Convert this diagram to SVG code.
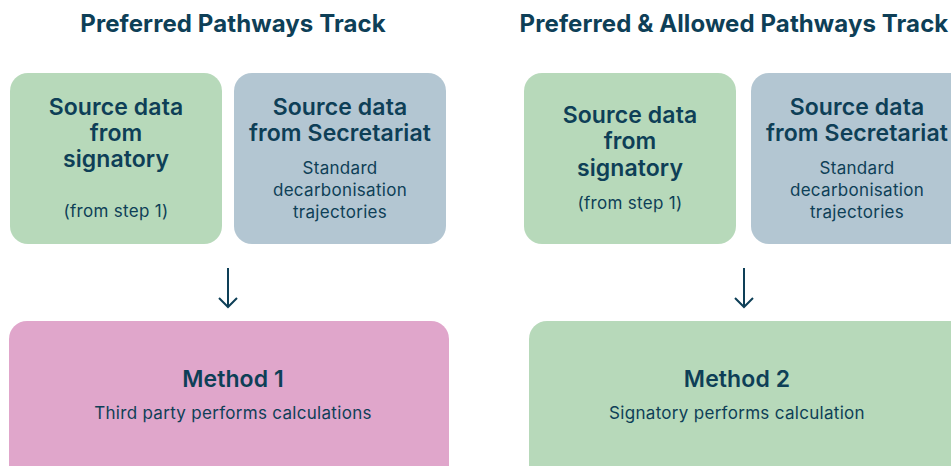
<svg xmlns="http://www.w3.org/2000/svg" width="951" height="466" viewBox="0 0 951 466">
<style>
.t{font-family:"Inter","Liberation Sans",sans-serif;fill:#0e3f57;text-anchor:middle}
.h{font-size:24px;font-weight:700;letter-spacing:0.1px}
.b{font-size:23px;font-weight:600;letter-spacing:0.1px}
.s{font-size:17px;font-weight:400;letter-spacing:0.3px}
.g{fill:#b7d9ba}
.bl{fill:#b3c6d2}
.p{fill:#e0a6cb}
.c{stroke:#0e3f57;stroke-width:2;fill:none}
</style>
<rect width="951" height="466" fill="#fff"/>
<text class="t h" x="233" y="32">Preferred Pathways Track</text>
<text class="t h" x="734" y="32">Preferred &amp; Allowed Pathways Track</text>
<g id="a1">
<rect class="g" x="10" y="73" width="212" height="171" rx="18"/>
<text class="t b" x="116" y="115">Source data</text>
<text class="t b" x="116" y="141">from</text>
<text class="t b" x="116" y="167">signatory</text>
<text class="t s" x="116" y="217">(from step 1)</text>
</g>
<g id="a2">
<rect class="bl" x="234" y="73" width="212" height="171" rx="18"/>
<text class="t b" x="340" y="115">Source data</text>
<text class="t b" x="340" y="141">from Secretariat</text>
<text class="t s" x="340" y="174">Standard</text>
<text class="t s" x="340" y="196">decarbonisation</text>
<text class="t s" x="340" y="218">trajectories</text>
</g>
<g id="b1">
<rect class="g" x="524" y="73" width="212" height="171" rx="18"/>
<text class="t b" x="630" y="123">Source data</text>
<text class="t b" x="630" y="149">from</text>
<text class="t b" x="630" y="176">signatory</text>
<text class="t s" x="630" y="209">(from step 1)</text>
</g>
<g id="b2">
<rect class="bl" x="751" y="73" width="220" height="171" rx="18"/>
<text class="t b" x="857" y="115">Source data</text>
<text class="t b" x="857" y="141">from Secretariat</text>
<text class="t s" x="857" y="174">Standard</text>
<text class="t s" x="857" y="196">decarbonisation</text>
<text class="t s" x="857" y="218">trajectories</text>
</g>
<g id="m1">
<rect class="p" x="9" y="321" width="440" height="170" rx="18"/>
<text class="t b" x="233" y="387">Method 1</text>
<text class="t s" x="233" y="419">Third party performs calculations</text>
</g>
<g id="m2">
<rect class="g" x="529" y="321" width="440" height="170" rx="18"/>
<text class="t b" x="737" y="387">Method 2</text>
<text class="t s" x="737" y="419">Signatory performs calculation</text>
</g>
<g id="connectors">
<path class="c" d="M228 268V307M219 298L228 307L237 298"/>
<path class="c" d="M744 268V307M735 298L744 307L753 298"/>
</g>
</svg>
